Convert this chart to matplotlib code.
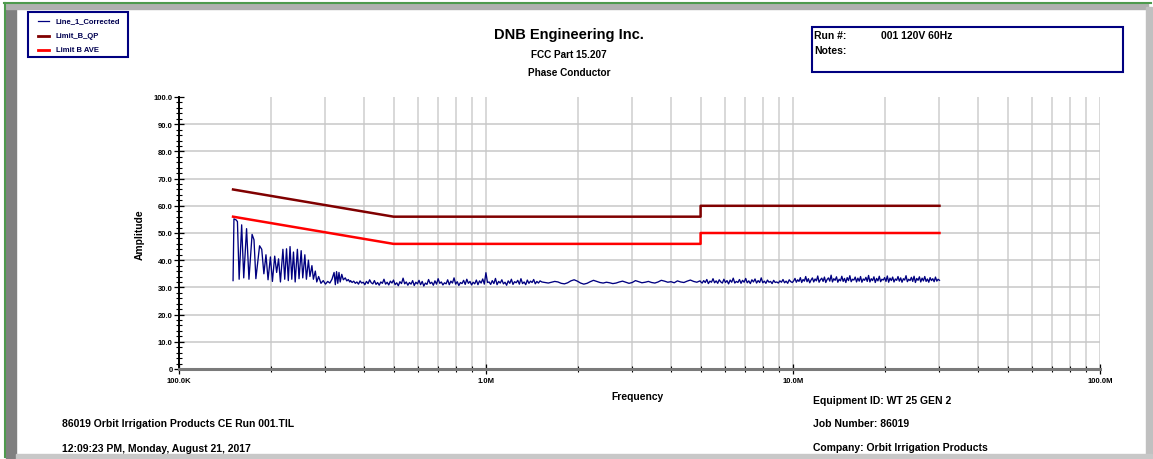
import numpy as np
import matplotlib.pyplot as plt
from matplotlib.lines import Line2D
from matplotlib.patches import Rectangle
from matplotlib.ticker import FixedLocator, FixedFormatter, NullFormatter

plt.rcParams['font.family'] = ['Liberation Sans', 'DejaVu Sans']
plt.rcParams['font.weight'] = 'bold'

# ---- data (frequency in MHz, amplitude in dBuV) ----
# low frequency comb region, read point by point
comb_freq = [0.1500, 0.1510, 0.1535, 0.1550, 0.1570, 0.1600, 0.1625, 0.1660, 0.1690, 0.1730,
             0.1755, 0.1780, 0.1830, 0.1860, 0.1890, 0.1920, 0.1950, 0.1985, 0.2015, 0.2050,
             0.2080, 0.2110, 0.2140, 0.2180, 0.2210, 0.2240, 0.2270, 0.2300, 0.2330, 0.2360,
             0.2390, 0.2430, 0.2460, 0.2500, 0.2530, 0.2570, 0.2600, 0.2640, 0.2670, 0.2710,
             0.2740, 0.2780, 0.2810, 0.2850, 0.2900, 0.2950, 0.3000, 0.3050, 0.3100, 0.3150,
             0.3200, 0.3230, 0.3260, 0.3290, 0.3320, 0.3350, 0.3390, 0.3430, 0.3480, 0.3520,
             0.3560, 0.3600]
comb_amp = [32.5, 55.2, 54.8, 54.2, 33.0, 53.0, 33.5, 51.6, 33.0, 49.5,
            47.5, 33.2, 45.3, 44.0, 35.0, 42.0, 32.8, 41.2, 32.2, 41.5,
            35.5, 40.5, 32.0, 44.0, 33.0, 44.2, 32.5, 45.0, 33.0, 43.0,
            32.0, 44.0, 33.2, 43.5, 33.5, 42.0, 33.0, 40.0, 34.0, 38.0,
            33.0, 36.0, 32.0, 34.0, 31.5, 32.5, 31.2, 32.2, 31.6, 33.0,
            35.5, 31.0, 35.8, 31.5, 35.5, 32.0, 34.8, 32.8, 33.5, 32.4,
            32.9, 32.0]

# 0.36 - 1.5 MHz, dense sweep
mid_amp = [32.5, 31.8, 32.3, 31.5, 32.0, 31.2, 32.4, 31.6, 31.9, 31.0, 32.2, 31.4, 32.8, 31.7,
           31.3, 32.5, 31.1, 31.8, 30.8, 32.0, 31.5, 33.0, 31.2, 31.9, 30.9, 32.3, 31.6, 32.7,
           31.0, 31.7, 30.6, 32.1, 31.4, 33.4, 31.3, 32.0, 30.8, 31.8, 31.2, 32.5, 30.7, 31.9,
           31.3, 32.6, 31.0, 32.2, 30.5, 31.6, 31.1, 32.9, 31.4, 31.9, 30.8, 32.4, 31.2, 33.2,
           31.5, 32.0, 30.9, 31.7, 31.3, 32.8, 31.0, 32.3, 31.6, 33.5, 31.2, 32.1, 30.7, 31.8,
           31.4, 32.6, 31.1, 33.0, 31.5, 32.2, 30.9, 31.9, 31.3, 32.7, 31.0, 32.4, 31.6, 33.1,
           31.2, 35.4, 31.8, 32.0, 31.1, 32.5, 31.4, 33.3, 31.0, 32.2, 31.6, 32.8, 31.3, 31.9,
           30.8, 32.4, 31.5, 33.0, 31.1, 32.1, 31.7, 32.6, 31.2, 33.2, 31.4, 32.0, 31.0, 32.7,
           31.5, 32.3, 31.8, 32.9, 31.3, 32.2, 31.6, 32.4]

# 1.5 - 5 MHz, sparser sweep
band2_amp = [32.0, 31.8, 31.6, 31.9, 32.2, 32.0, 31.5, 31.3, 31.7, 32.4, 32.8, 32.3, 31.6, 31.2,
             31.5, 32.1, 32.6, 32.2, 31.8, 31.6, 31.9, 31.7, 31.4, 31.6, 32.0, 32.3, 31.9, 31.5,
             31.8, 32.5, 32.1, 31.7, 31.9, 32.2, 31.8, 31.6, 32.0, 32.6, 32.3, 31.9, 32.1, 31.7,
             32.4, 32.0, 31.8, 32.3, 32.7, 32.2, 31.9, 32.4]

# 5 - 10 MHz
band3_amp = [32.1, 31.6, 32.5, 31.8, 32.9, 31.4, 32.3, 31.9, 33.2, 31.7, 32.4, 31.5, 32.8, 32.0,
             31.6, 33.0, 31.8, 32.5, 31.3, 32.7, 31.9, 33.4, 31.6, 32.2, 31.8, 32.9, 31.5, 32.6,
             31.9, 33.3, 31.7, 32.4, 31.4, 32.8, 32.0, 33.1, 31.6, 32.5, 31.8, 33.5, 31.7, 32.3,
             31.5, 32.7, 31.9, 32.2, 31.4, 32.6, 31.8, 32.0, 31.6, 32.4, 31.9, 32.9, 31.7, 32.3,
             31.5, 32.8, 32.1, 31.8]

# 10 - 30 MHz
band4_amp = [32.4, 33.3, 31.9, 32.8, 32.2, 33.6, 31.8, 32.9, 32.3, 34.0, 32.1, 33.2, 31.7, 32.7,
             33.5, 32.0, 33.1, 32.4, 34.2, 31.9, 32.8, 33.4, 32.2, 33.8, 31.8, 32.9, 33.5, 32.3,
             34.5, 32.0, 33.2, 32.6, 33.9, 31.9, 33.0, 32.4, 34.1, 32.2, 33.3, 31.8, 33.6, 32.5,
             34.3, 32.1, 33.0, 32.7, 33.8, 32.0, 33.4, 32.3, 34.0, 31.9, 33.1, 32.6, 33.7, 32.2,
             34.4, 32.0, 33.2, 32.5, 33.9, 31.8, 33.3, 32.4, 34.1, 32.1, 33.0, 32.7, 33.6, 32.2,
             34.2, 31.9, 33.4, 32.5, 33.8, 32.0, 33.1, 32.6, 34.0, 32.3, 33.5, 31.9, 33.2, 32.7,
             34.3, 32.1, 33.0, 32.5, 33.7, 32.2, 34.1, 31.8, 33.3, 32.6, 33.9, 32.0, 33.4, 32.4,
             34.0, 32.2, 33.1, 31.9, 33.6, 32.5, 33.2, 32.1, 33.8, 32.3, 33.0, 32.6]

# FCC 15.207 class B limits
limit_freq = [0.15, 0.5, 5.0, 5.0, 30.0]
qp_amp = [66, 56, 56, 60, 60]
ave_amp = [56, 46, 46, 50, 50]

# sweep grids for each band (analyser step, log spaced)
freq = np.concatenate([
    comb_freq,
    np.geomspace(0.362, 1.5, len(mid_amp)),
    np.geomspace(1.52, 4.98, len(band2_amp)),
    np.geomspace(5.0, 9.95, len(band3_amp)),
    np.geomspace(10.05, 30.0, len(band4_amp)),
])
amp = np.concatenate([comb_amp, mid_amp, band2_amp, band3_amp, band4_amp])

W, H = 1153, 460
fig = plt.figure(figsize=(W / 100, H / 100), dpi=100)


def fx(x):
    return x / W


def fy(y):
    return 1 - y / H


# page frame
fig.patches.append(Rectangle((fx(6), fy(460)), fx(10), fy(8) - fy(460), transform=fig.transFigure,
                             color='#808080', zorder=0))
fig.patches.append(Rectangle((fx(6), fy(10)), fx(1148) - fx(6), fy(5) - fy(10), transform=fig.transFigure,
                             color='#b0b0b0', zorder=0))
fig.patches.append(Rectangle((fx(1146), fy(460)), fx(6), fy(8) - fy(460), transform=fig.transFigure,
                             color='#c0c0c0', zorder=0))
fig.patches.append(Rectangle((fx(16), fy(460)), fx(1152) - fx(16), fy(455) - fy(460), transform=fig.transFigure,
                             color='#c8c8c8', zorder=0))
fig.add_artist(Line2D([fx(4), fx(1151)], [fy(4), fy(4)], color='#4e9a4e', lw=1.5))
fig.add_artist(Line2D([fx(5), fx(5)], [fy(4), fy(458)], color='#4e9a4e', lw=1.5))

ax = fig.add_axes([fx(179), fy(370), fx(1100) - fx(179), fy(98) - fy(370)])
ax.set_xscale('log')
ax.set_xlim(1e5, 1e8)
ax.set_ylim(0, 100)

# grid
minor_x = [m * 10 ** d for d in (5, 6, 7) for m in range(2, 10)]
for xv in minor_x + [1e6, 1e7, 1e8]:
    ax.axvline(xv, color='#d2d2d2', lw=1.2, zorder=1)
for yv in range(10, 100, 10):
    ax.axhline(yv, color='#c8c8c8', lw=1.1, zorder=1)

ax.plot(np.array(freq) * 1e6, amp, color='#000080', lw=0.95, zorder=3)
ax.plot(np.array(limit_freq) * 1e6, qp_amp, color='#800000', lw=1.8, zorder=4)
ax.plot(np.array(limit_freq) * 1e6, ave_amp, color='#ff0000', lw=1.8, zorder=4)

for s in ('top', 'right'):
    ax.spines[s].set_visible(False)
ax.spines['left'].set_color('black')
ax.spines['left'].set_linewidth(1.4)
ax.spines['bottom'].set_color('#7a7a7a')
ax.spines['bottom'].set_linewidth(2.2)
ax.spines['left'].set_zorder(5)
ax.spines['bottom'].set_zorder(5)

ax.xaxis.set_major_locator(FixedLocator([1e5, 1e6, 1e7, 1e8]))
ax.xaxis.set_major_formatter(FixedFormatter(['100.0K', '1.0M', '10.0M', '100.0M']))
ax.xaxis.set_minor_locator(FixedLocator(minor_x))
ax.xaxis.set_minor_formatter(NullFormatter())
ax.yaxis.set_major_locator(FixedLocator(list(range(0, 101, 10))))
ax.yaxis.set_major_formatter(FixedFormatter(['0'] + ['%.1f' % v for v in range(10, 101, 10)]))
ax.yaxis.set_minor_locator(FixedLocator([v for v in range(0, 100, 2) if v % 10]))

ax.tick_params(axis='x', which='major', direction='inout', length=7, width=0.9, pad=2, labelsize=5.5)
ax.tick_params(axis='x', which='minor', direction='inout', length=5, width=0.8)
ax.tick_params(axis='y', which='major', direction='inout', length=7, width=0.9, pad=1, labelsize=5.5)
ax.tick_params(axis='y', which='minor', direction='inout', length=4.5, width=0.8)
for lab in ax.get_xticklabels() + ax.get_yticklabels():
    lab.set_fontweight('bold')

fig.text(fx(140), fy(235), 'Amplitude', rotation=90, ha='center', va='center', fontsize=7.4)
fig.text(fx(638), fy(397), 'Frequency', ha='center', va='center', fontsize=7.4)

# titles
fig.text(fx(569), fy(35), 'DNB Engineering Inc.', ha='center', va='center', fontsize=10.5)
fig.text(fx(569), fy(55), 'FCC Part 15.207', ha='center', va='center', fontsize=7.2)
fig.text(fx(569), fy(73), 'Phase Conductor', ha='center', va='center', fontsize=7.2)

# legend box
fig.patches.append(Rectangle((fx(28), fy(58)), fx(128) - fx(28), fy(13) - fy(58), transform=fig.transFigure,
                             fill=False, edgecolor='#000080', lw=1.5, zorder=5))
legend_items = [('Line_1_Corrected', '#000080', 0.9, 22),
                ('Limit_B_QP', '#800000', 2.0, 37),
                ('Limit B AVE', '#ff0000', 2.0, 51)]
for name, col, lw, yy in legend_items:
    fig.add_artist(Line2D([fx(38), fx(49)], [fy(yy), fy(yy)], color=col, lw=lw))
    fig.text(fx(56), fy(yy), name, ha='left', va='center', fontsize=5.5, color='#000050')

# run box
fig.patches.append(Rectangle((fx(812), fy(73)), fx(1123) - fx(812), fy(28) - fy(73), transform=fig.transFigure,
                             fill=False, edgecolor='#000080', lw=1.5, zorder=5))
fig.text(fx(814), fy(36), 'Run #:', ha='left', va='center', fontsize=7.5)
fig.text(fx(881), fy(36), '001 120V 60Hz', ha='left', va='center', fontsize=7.5)
fig.text(fx(814), fy(51), 'Notes:', ha='left', va='center', fontsize=7.5)

# footer
fig.text(fx(62), fy(424), '86019 Orbit Irrigation Products CE Run 001.TIL', ha='left', va='center', fontsize=7.5)
fig.text(fx(62), fy(449), '12:09:23 PM, Monday, August 21, 2017', ha='left', va='center', fontsize=7.5)
fig.text(fx(813), fy(401), 'Equipment ID: WT 25 GEN 2', ha='left', va='center', fontsize=7.5)
fig.text(fx(813), fy(424), 'Job Number: 86019', ha='left', va='center', fontsize=7.5)
fig.text(fx(813), fy(448), 'Company: Orbit Irrigation Products', ha='left', va='center', fontsize=7.5)

fig.savefig('out.png', dpi=100)
